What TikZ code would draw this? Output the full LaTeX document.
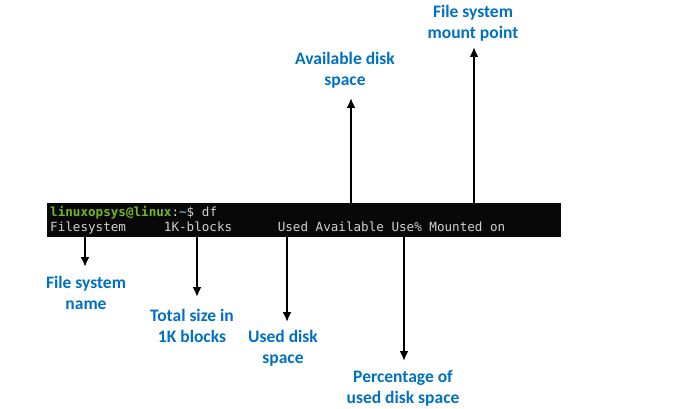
\documentclass[tikz,border=0pt]{standalone}
\usepackage{fontspec}
\setmainfont{Carlito}
\setmonofont{DejaVu Sans Mono}
\usetikzlibrary{arrows.meta}
\definecolor{lblue}{RGB}{0,112,192}
\definecolor{termbg}{RGB}{8,8,8}
\definecolor{termfg}{RGB}{208,208,208}
\definecolor{promptgreen}{RGB}{118,180,40}
\definecolor{tildeblue}{RGB}{114,159,207}
\tikzset{
  lbl/.style={text=lblue, font=\fontsize{17.5}{21}\selectfont\bfseries, align=center, inner sep=0pt},
  term/.style={font=\fontsize{12.6}{15}\selectfont\ttfamily, text=termfg, anchor=west, inner sep=0pt},
  arr/.style={line width=2.6pt, -{Latex[length=10pt,width=9pt]}},
}
\begin{document}
\begin{tikzpicture}[x=1pt,y=-1pt]
\useasboundingbox (0,0) rectangle (686,409);
\node[fill=termbg, minimum width=514pt, minimum height=34pt, anchor=north west, inner sep=0pt] (bar) at (47,203) {};
\node[term] (l1) at (50,213) {\textcolor{promptgreen}{\bfseries linuxopsys@linux}:\textcolor{tildeblue}{\bfseries\char`~}\$ df};
\node[term] (l2) at (50,228) {Filesystem\ \ \ \ \ 1K-blocks\ \ \ \ \ \ Used Available Use\% Mounted on};
% labels
\node[lbl] (mount) at (473,23) {File system\\mount point};
\node[lbl] (avail) at (345,70) {Available disk\\space};
\node[lbl] (fsname) at (86,293) {File system\\name};
\node[lbl] (total) at (192,326) {Total size in\\1K blocks};
\node[lbl] (used) at (283,348) {Used disk\\space};
\node[lbl] (pct) at (403,388) {Percentage of\\used disk space};
% arrow coordinates
\coordinate (a1) at (85,267);
\coordinate (a2) at (197,297);
\coordinate (a3) at (287,322);
\coordinate (a4) at (404,361);
\coordinate (a5) at (351,98);
\coordinate (a6) at (474,47);
\draw[arr] (a1 |- bar.south) -- (a1);
\draw[arr] (a2 |- bar.south) -- (a2);
\draw[arr] (a3 |- bar.south) -- (a3);
\draw[arr] (a4 |- bar.south) -- (a4);
\draw[arr] (a5 |- bar.north) -- (a5);
\draw[arr] (a6 |- bar.north) -- (a6);
\end{tikzpicture}
\end{document}
